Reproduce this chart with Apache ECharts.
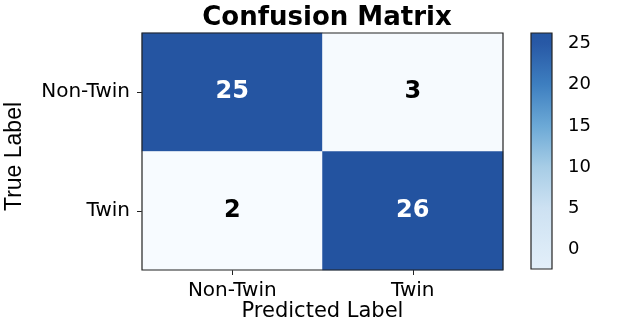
<!DOCTYPE html>
<html>
<head>
<meta charset="utf-8">
<script src="https://cdn.jsdelivr.net/npm/echarts@6/dist/echarts.min.js"></script>
<style>html,body{margin:0;padding:0;background:#fff}#c{width:628px;height:322px}</style>
</head>
<body>
<div id="c"></div>
<script>
// ---- data ----
const predLabels = ['Non-Twin', 'Twin'];
const trueLabels = ['Non-Twin', 'Twin'];
// rows: true label, columns: predicted label
const matrix = [
  [25, 3],
  [2, 26]
];
const cbRange = [-2.4, 26.3];
const cbTicks = [0, 5, 10, 15, 20, 25];
const cbStops = [
  [-2.4, '#e3eff9'], [0, '#dcebf7'], [5, '#cde1f2'], [10, '#a7cde6'],
  [15, '#6ca9d6'], [20, '#3e7fc0'], [25, '#2859a6'], [26.3, '#2456a3']
];

const FONT = 'DejaVu Sans';
const heatData = [];
matrix.forEach((row, r) => row.forEach((v, c) => {
  heatData.push({
    value: [c, r, v],
    label: { color: v > 14 ? '#ffffff' : '#000000' }
  });
}));

const chart = echarts.init(document.getElementById('c'), null, { renderer: 'canvas' });
chart.setOption({
  animation: false,
  backgroundColor: '#ffffff',
  title: {
    text: 'Confusion Matrix',
    left: 322, textAlign: 'center', top: 0,
    textStyle: { fontFamily: FONT, fontWeight: 'bold', fontSize: 26, color: '#000' }
  },
  grid: [
    { left: 142, right: 125, top: 33, bottom: 52, outerBoundsMode: 'none', containLabel: false, show: true, borderColor: '#222', borderWidth: 1.2, backgroundColor: 'transparent', z: 10 },
    { left: 531, width: 21, top: 33, height: 236, outerBoundsMode: 'none', containLabel: false, show: true, borderColor: '#222', borderWidth: 1.2, backgroundColor: 'transparent', z: 10 }
  ],
  xAxis: [
    {
      gridIndex: 0, type: 'category', data: predLabels,
      name: 'Predicted Label', nameLocation: 'middle', nameGap: 31, nameMoveOverlap: false,
      nameTextStyle: { fontFamily: FONT, fontSize: 21, color: '#000' },
      axisLine: { show: false }, splitLine: { show: false },
      axisTick: { show: true, alignWithLabel: true, length: 5, lineStyle: { color: '#222' } },
      axisLabel: { fontFamily: FONT, fontSize: 20, color: '#000', margin: 11 }
    },
    { gridIndex: 1, type: 'value', min: 0, max: 1, show: false }
  ],
  yAxis: [
    {
      gridIndex: 0, type: 'category', data: trueLabels, inverse: true,
      name: 'True Label', nameLocation: 'middle', nameGap: 116, nameRotate: 90,
      nameTextStyle: { fontFamily: 'Liberation Sans', fontSize: 23, color: '#000', padding: [0, 10, 0, 0] },
      axisLine: { show: false }, splitLine: { show: false },
      axisTick: { show: true, alignWithLabel: true, length: 5, lineStyle: { color: '#222' } },
      axisLabel: { fontFamily: FONT, fontSize: 20, color: '#000', margin: 12 }
    },
    {
      gridIndex: 1, type: 'value', position: 'right', min: cbRange[0], max: cbRange[1],
      axisLine: { show: false }, splitLine: { show: false },
      axisTick: { show: true, customValues: cbTicks, length: 6, lineStyle: { color: '#222' } },
      axisLabel: { show: true, customValues: cbTicks, fontFamily: FONT, fontSize: 18, color: '#000', margin: 16 }
    }
  ],
  visualMap: {
    show: false, type: 'continuous', seriesIndex: 0, dimension: 2,
    min: 2, max: 26,
    inRange: { color: ['#f7fbff', '#f1f6fc', '#c6dbef', '#84b8da', '#4a89c4', '#2a5ba6', '#2353a0'] }
  },
  series: [
    {
      type: 'heatmap', xAxisIndex: 0, yAxisIndex: 0,
      data: heatData,
      label: { show: true, fontFamily: FONT, fontWeight: 'bold', fontSize: 24 },
      itemStyle: { borderWidth: 0 },
      emphasis: { disabled: true }
    },
    {
      type: 'custom', xAxisIndex: 1, yAxisIndex: 1,
      data: [[0, cbRange[0], cbRange[1]]],
      renderItem: function (params, api) {
        const p0 = api.coord([0, api.value(1)]);
        const p1 = api.coord([1, api.value(2)]);
        const span = cbRange[1] - cbRange[0];
        const stops = cbStops.map(s => ({ offset: (s[0] - cbRange[0]) / span, color: s[1] }));
        return {
          type: 'rect',
          shape: { x: p0[0], y: p1[1], width: p1[0] - p0[0], height: p0[1] - p1[1] },
          style: { fill: new echarts.graphic.LinearGradient(0, 1, 0, 0, stops) }
        };
      },
      silent: true
    }
  ]
});
</script>
</body>
</html>
